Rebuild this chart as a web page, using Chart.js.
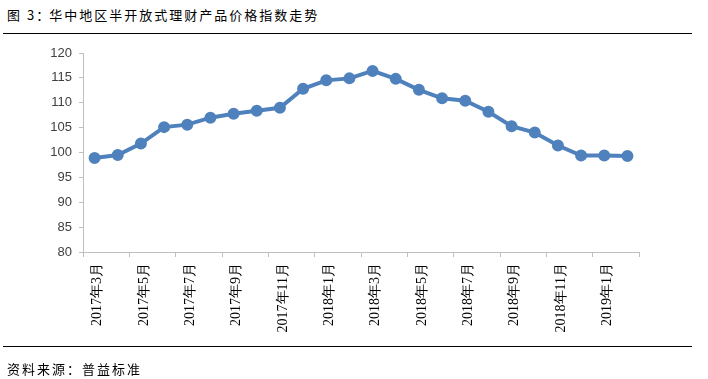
<!DOCTYPE html>
<html>
<head>
<meta charset="utf-8">
<script src="https://cdn.jsdelivr.net/npm/chart.js@4"></script>
<style>
  body { margin: 0; background: #fff; }
  #wrap { position: relative; width: 708px; height: 379px; overflow: hidden; }
  #titulo { position: absolute; left: 7px; top: 5px; font: 13px/20px "Noto Sans CJK SC", sans-serif; letter-spacing: 2px; color: #000; white-space: nowrap; }
  #titulo .dp { letter-spacing: 0px; }
  .regua { position: absolute; left: 3px; width: 689px; height: 1px; background: #000; }
  #fonte { position: absolute; left: 7px; top: 359px; font: 13px/20px "Noto Sans CJK SC", sans-serif; letter-spacing: 2px; color: #000; white-space: nowrap; }
  canvas { position: absolute; left: 0; top: 0; }
</style>
</head>
<body>
<div id="wrap">
  <div id="titulo">图 3<span class="dp">：</span>华中地区半开放式理财产品价格指数走势</div>
  <div class="regua" style="top:33px"></div>
  <canvas id="grafico" width="708" height="379"></canvas>
  <div class="regua" style="top:346px"></div>
  <div id="fonte">资料来源：普益标准</div>
</div>
<script>
// meses de 2017-03 a 2019-02
const meses = [
  "2017年3月", "2017年4月", "2017年5月", "2017年6月", "2017年7月", "2017年8月",
  "2017年9月", "2017年10月", "2017年11月", "2017年12月", "2018年1月", "2018年2月",
  "2018年3月", "2018年4月", "2018年5月", "2018年6月", "2018年7月", "2018年8月",
  "2018年9月", "2018年10月", "2018年11月", "2018年12月", "2019年1月", "2019年2月"
];

const indice = [
  98.9, 99.5, 101.8, 105.1, 105.6, 107.0,
  107.8, 108.4, 109.0, 112.8, 114.5, 114.9,
  116.4, 114.8, 112.6, 110.9, 110.4, 108.2,
  105.3, 104.0, 101.4, 99.4, 99.4, 99.3
];

const yMin = 80;
const yMax = 120;
const yPasso = 5;

const cinza = "#bfbfbf";
const azul = "#4f81bd";

new Chart(document.getElementById("grafico"), {
  type: "line",
  data: {
    labels: meses,
    datasets: [{
      data: indice,
      borderColor: azul,
      backgroundColor: azul,
      borderWidth: 4,
      pointRadius: 4,
      pointHoverRadius: 4,
      tension: 0,
    }]
  },
  options: {
    responsive: false,
    animation: false,
    layout: { padding: { left: 0, top: 53, right: 69, bottom: 0 } },
    plugins: { legend: { display: false }, tooltip: { enabled: false } },
    scales: {
      x: {
        offset: true,
        afterFit: (scale) => { scale.height = 127; },
        border: { color: cinza, width: 1 },
        grid: {
          offset: true,
          drawOnChartArea: false,
          tickLength: 5,
          color: (ctx) => (ctx.index === undefined || ctx.index % 2 === 0) ? cinza : "rgba(0,0,0,0)",
        },
        ticks: {
          autoSkip: false,
          maxRotation: 90,
          minRotation: 90,
          padding: 6,
          labelOffset: 3,
          color: "#000",
          font: { family: "Liberation Serif", size: 14 },
          callback: (valor, i) => i % 2 === 0 ? meses[i] : "",
        }
      },
      y: {
        min: yMin,
        max: yMax,
        afterFit: (scale) => { scale.width = 83; },
        border: { color: cinza, width: 1 },
        grid: { drawOnChartArea: false, tickLength: 4, color: cinza },
        ticks: {
          stepSize: yPasso,
          padding: 7,
          color: "#404040",
          font: { family: "Liberation Sans", size: 13 },
        }
      }
    }
  }
});
</script>
</body>
</html>
